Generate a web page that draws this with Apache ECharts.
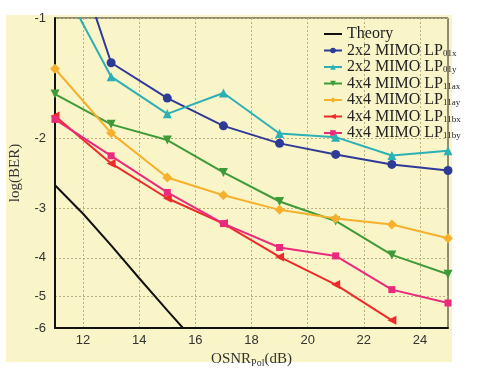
<!DOCTYPE html>
<html><head><meta charset="utf-8">
<script src="https://cdn.jsdelivr.net/npm/echarts@6/dist/echarts.min.js"></script>
<style>html,body{margin:0;padding:0;background:#fff}#c{width:478px;height:376px}</style>
</head><body><div id="c"></div>
<script>
// x values (OSNR_Pol, dB)
const osnr = [11, 13, 15, 17, 19, 21, 23, 25];
const theoryOsnr = [11, 12, 13, 14, 15, 16];
// values are -log10(BER)
const theory = [2.63, 3.1, 3.72, 4.5, 5.42, 6.5];
const lp01x = [0.49, 1.295, 1.589, 1.865, 2.064, 2.200, 2.331, 2.414];
const lp01y = [0.765, 1.404, 1.740, 1.543, 1.949, 1.991, 2.213, 2.155];
const lp11ax = [1.552, 1.849, 2.025, 2.442, 2.888, 3.232, 3.932, 4.398];
const lp11ay = [1.341, 1.945, 2.513, 2.785, 3.031, 3.187, 3.299, 3.571];
const lp11bx = [1.763, 2.318, 2.834, 3.281, 3.979, 4.669, 5.740];
const lp11by = [1.797, 2.218, 2.741, 3.281, 3.768, 3.956, 4.806, 5.192];
const xTicks = [12, 14, 16, 18, 20, 22, 24];
const yTicks = [1, 2, 3, 4, 5, 6];
const names = ['Theory', '2x2 MIMO LP01x', '2x2 MIMO LP01y', '4x4 MIMO LP11ax', '4x4 MIMO LP11ay', '4x4 MIMO LP11bx', '4x4 MIMO LP11by'];
const subs = ['', '01x', '01y', '11ax', '11ay', '11bx', '11by'];

const pair = (xs, ys) => ys.map((v, i) => [xs[i], v]);
const chart = echarts.init(document.getElementById('c'));
const serif = '"Liberation Serif", "DejaVu Serif", serif';
const sans = '"Liberation Sans", Arial, sans-serif';

function mk(i, data, color, symbol, size, rot) {
  return {
    name: names[i], type: 'line', data: data, color: color,
    symbol: symbol, symbolSize: size, symbolRotate: rot || 0,
    showSymbol: symbol !== 'none',
    lineStyle: { width: 2, color: color },
    itemStyle: { color: color },
    clip: true, animation: false, z: 3 + i
  };
}

chart.setOption({
  animation: false,
  backgroundColor: '#ffffff',
  graphic: [{ type: 'rect', shape: { x: 6, y: 15, width: 446, height: 347 }, style: { fill: '#F9F5C8' }, z: -10 }],
  grid: { left: 51, right: 30, top: 18, bottom: 48, show: true, borderColor: '#222', borderWidth: 1, backgroundColor: 'transparent' },
  legend: {
    orient: 'vertical', left: 318, top: 21, itemWidth: 18, itemHeight: 7, itemGap: 0,
    data: names.map((n, i) => i === 0 ? { name: n, itemStyle: { opacity: 0 } } : { name: n }),
    formatter: function (n) {
      const i = names.indexOf(n);
      if (!subs[i]) return '{a|' + n + '}';
      return '{a|' + n.slice(0, n.length - subs[i].length) + '}{s|' + subs[i] + '}';
    },
    textStyle: {
      rich: {
        a: { fontFamily: serif, fontSize: 16, color: '#222', lineHeight: 15 },
        s: { fontFamily: serif, fontSize: 9, color: '#222', verticalAlign: 'bottom', lineHeight: 9, padding: [7, 0, 0, 0] }
      }
    }
  },
  xAxis: {
    type: 'value', min: 11, max: 25,
    name: '{a|OSNR}{s|Pol}{a|(dB)}', nameLocation: 'middle', nameGap: 21,
    nameTextStyle: {
      rich: {
        a: { fontFamily: serif, fontSize: 15, color: '#333' },
        s: { fontFamily: serif, fontSize: 10, color: '#333', padding: [8, 0, 0, 0] }
      }
    },
    axisLine: { lineStyle: { color: '#111', width: 2 } },
    axisTick: { show: false, customValues: xTicks },
    axisLabel: { customValues: xTicks, fontFamily: sans, fontSize: 13, color: '#333', margin: 6 },
    splitLine: { show: true, lineStyle: { color: '#B9B27E', type: [2, 2], width: 1 } }
  },
  yAxis: {
    type: 'log', logBase: 10, min: 1, max: 6, inverse: true,
    name: 'log(BER)', nameLocation: 'middle', nameGap: 32,
    nameTextStyle: { fontFamily: serif, fontSize: 15, color: '#333' },
    axisLine: { lineStyle: { color: '#111', width: 2 } },
    axisTick: { show: false, customValues: yTicks },
    axisLabel: { customValues: yTicks, fontFamily: sans, fontSize: 13, color: '#333', margin: 9, formatter: v => '-' + Math.round(v) },
    splitLine: { show: true, lineStyle: { color: '#B9B27E', type: [2, 2], width: 1 } }
  },
  series: [
    mk(0, pair(theoryOsnr, theory), '#111111', 'none', 0),
    mk(1, pair(osnr, lp01x), '#2E3A96', 'circle', 9),
    mk(2, pair(osnr, lp01y), '#2DB0B5', 'triangle', 9),
    mk(3, pair(osnr, lp11ax), '#3F9B3A', 'triangle', 9, 180),
    mk(4, pair(osnr, lp11ay), '#F6B02C', 'diamond', 10),
    mk(5, pair(osnr, lp11bx), '#EE2B2B', 'triangle', 9, 90),
    mk(6, pair(osnr, lp11by), '#EA2A7C', 'rect', 7)
  ]
});
</script></body></html>
